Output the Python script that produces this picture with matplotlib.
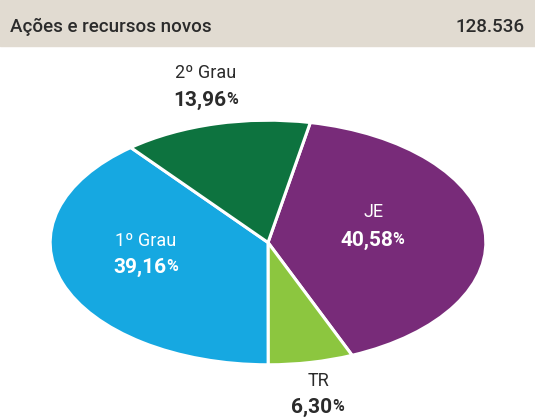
import matplotlib.pyplot as plt
from matplotlib.patches import Rectangle

plt.rcParams['font.family'] = ['Roboto', 'DejaVu Sans']

titulo = 'Ações e recursos novos'
total = '128.536'
categorias = ['JE', 'TR', '1º Grau', '2º Grau']
valores = [40.58, 6.30, 39.16, 13.96]
rotulos = ['40,58', '6,30', '39,16', '13,96']
cores = ['#782b79', '#8cc63f', '#16a8e1', '#0d733f']

W, H = 535, 419
fig = plt.figure(figsize=(W / 100, H / 100), dpi=100)


def fx(x):
    return x / W


def fy(y):
    return 1 - y / H


# faixa do titulo
fig.patches.append(Rectangle((0, fy(46)), 1, 46 / H, transform=fig.transFigure,
                             color='#e1dbd1', zorder=0))
fig.text(fx(10), fy(27), titulo, fontsize=13.5, fontweight='medium',
         color='#2b2b2b', va='center', ha='left')
fig.text(fx(525), fy(27), total, fontsize=13.5, fontweight='medium',
         color='#2b2b2b', va='center', ha='right')

# pizza eliptica
ax = fig.add_axes([fx(48), fy(366), (488 - 48) / W, (366 - 119) / H])
ax.pie(valores, colors=cores, startangle=78.8, counterclock=False,
       wedgeprops=dict(edgecolor='white', linewidth=2.2))
ax.set_aspect('auto')
ax.set_xlim(-1.01, 1.01)
ax.set_ylim(-1.01, 1.01)
ax.axis('off')

# rotulos: (x, y nome, y valor, cor)
pos = [(373, 212, 240, 'white'),
       (318, 381, 407, '#2b2b2b'),
       (146, 241, 267, 'white'),
       (206, 73, 100, '#2b2b2b')]
for nome, num, (x, y1, y2, c) in zip(categorias, rotulos, pos):
    fig.text(fx(x), fy(y1), nome, fontsize=13, color=c, ha='center', va='center')
    t = fig.text(fx(x - 6), fy(y2), num, fontsize=15, fontweight='bold',
                 color=c, ha='center', va='center')
    ax.annotate('%', xy=(1, 0), xycoords=t, xytext=(-0.5, 1.5), textcoords='offset points',
                fontsize=11.5, fontweight='bold', color=c, ha='left', va='bottom',
                annotation_clip=False)

fig.savefig('out.png', dpi=100)
